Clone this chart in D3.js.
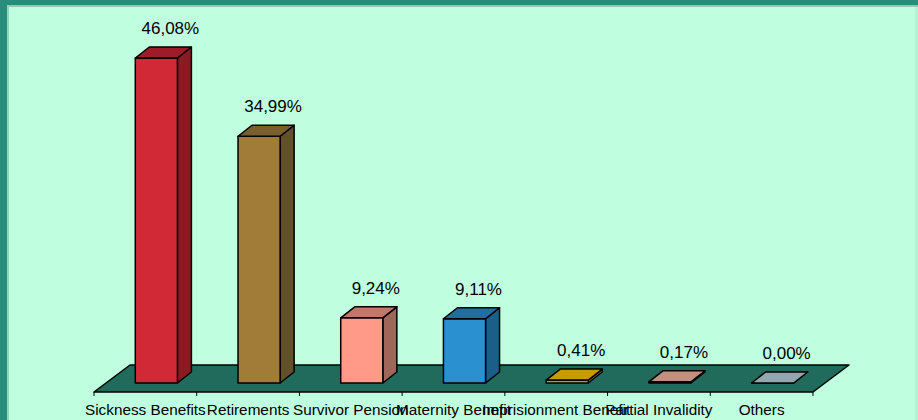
<!DOCTYPE html>
<html>
<head>
<meta charset="utf-8">
<script src="https://cdn.jsdelivr.net/npm/d3@7/dist/d3.min.js"></script>
<style>
html,body{margin:0;padding:0;background:#bfffdf;}
svg{display:block;font-family:"Liberation Sans",Arial,sans-serif;}
</style>
</head>
<body>
<svg id="chart" width="918" height="420"></svg>
<script>
const categories = ["Sickness Benefits","Retirements","Survivor Pension","Maternity Benefit","Imprisionment Benefit","Partial Invalidity","Others"];
const values = [46.08, 34.99, 9.24, 9.11, 0.41, 0.17, 0.00];
const valueLabels = ["46,08%","34,99%","9,24%","9,11%","0,41%","0,17%","0,00%"];
const frontColors = ["#d12a36","#a07c38","#ff9988","#2a90d0","#c89c00","#c09080","#90a8b0"];
const topColors   = ["#9e1c27","#7a5e2c","#c07868","#1e6fa0","#c89c00","#c09080","#90a8b0"];
const sideColors  = ["#8b1a22","#62502a","#a0665a","#1a5f8a","#8a6c00","#8a6458","#6a7c84"];

const svg = d3.select("#chart");
const W = 918, H = 420;

// background & frame
svg.append("rect").attr("x",0).attr("y",0).attr("width",W).attr("height",H).attr("fill","#bfffdf");
svg.append("rect").attr("x",0).attr("y",0).attr("width",W).attr("height",5).attr("fill","#2a8c7a");
svg.append("rect").attr("x",7).attr("y",5).attr("width",W-7).attr("height",2).attr("fill","#9cc4b4");
svg.append("rect").attr("x",0).attr("y",0).attr("width",7).attr("height",H).attr("fill","#2a8c7a");
svg.append("rect").attr("x",7).attr("y",5).attr("width",2).attr("height",H).attr("fill","#8fd8c0");
svg.append("rect").attr("x",915).attr("y",7).attr("width",3).attr("height",H).attr("fill","#b4f4d4");

// geometry
const floorLeft = 94, floorRight = 813, floorFrontY = 392;
const floorDX = 36, floorDY = -27;
const barDX0 = 11, barDY0 = -9;   // bar front offset from floor front
const barDX = 14, barDY = -11;    // bar depth

const xCat = d3.scaleBand().domain(categories).range([floorLeft, floorRight]).paddingInner(0).paddingOuter(0);
const x = d3.scaleBand().domain(categories).range([floorLeft, floorRight]).paddingInner(0.59).paddingOuter(0.295);
const baseY = floorFrontY + barDY0;
const y = d3.scaleLinear().domain([0, 50]).range([baseY, baseY - 50 * 325 / 46.08]);

// floor
const floorPts = [[floorLeft,floorFrontY],[floorRight,floorFrontY],[floorRight+floorDX,floorFrontY+floorDY],[floorLeft+floorDX,floorFrontY+floorDY]];
svg.append("polygon").attr("points", floorPts.map(p=>p.join(",")).join(" "))
  .attr("fill","#206b5b").attr("stroke","#000").attr("stroke-width",1.5).attr("stroke-linejoin","round");

// ticks
const bounds = categories.map(c => xCat(c)).concat([floorRight]);
svg.selectAll("line.tick").data(bounds).enter().append("line")
  .attr("x1",d=>d).attr("x2",d=>d).attr("y1",floorFrontY).attr("y2",floorFrontY+4)
  .attr("stroke","#000").attr("stroke-width",1);

// bars
const data = categories.map((c,i)=>({c, v:values[i], label:valueLabels[i], i}));
const g = svg.append("g");
data.forEach(d => {
  const x0 = x(d.c) + barDX0, x1 = x0 + x.bandwidth();
  const yb = y(0), yt = y(d.v);
  const gg = g.append("g");
  const st = {stroke:"#000","stroke-width":1.5,"stroke-linejoin":"round"};
  const poly = (pts, fill) => {
    const p = gg.append("polygon").attr("points", pts.map(q=>q.join(",")).join(" ")).attr("fill", fill);
    Object.entries(st).forEach(([k,v])=>p.attr(k,v));
  };
  // side
  poly([[x1,yb],[x1+barDX,yb+barDY],[x1+barDX,yt+barDY],[x1,yt]], sideColors[d.i]);
  // front
  poly([[x0,yb],[x1,yb],[x1,yt],[x0,yt]], frontColors[d.i]);
  // top
  poly([[x0,yt],[x1,yt],[x1+barDX,yt+barDY],[x0+barDX,yt+barDY]], topColors[d.i]);
});

// value labels
svg.selectAll("text.val").data(data).enter().append("text")
  .attr("x", d => x(d.c) + barDX0 + x.bandwidth()/2 + 14)
  .attr("y", d => y(d.v) + barDY - 13)
  .attr("text-anchor","middle").attr("font-size","17px").attr("fill","#000")
  .text(d => d.label);

// category labels
svg.selectAll("text.cat").data(categories).enter().append("text")
  .attr("x", d => xCat(d) + xCat.bandwidth()/2)
  .attr("y", 415)
  .attr("text-anchor","middle").attr("font-size","15.3px").attr("fill","#000")
  .text(d => d);
</script>
</body>
</html>
